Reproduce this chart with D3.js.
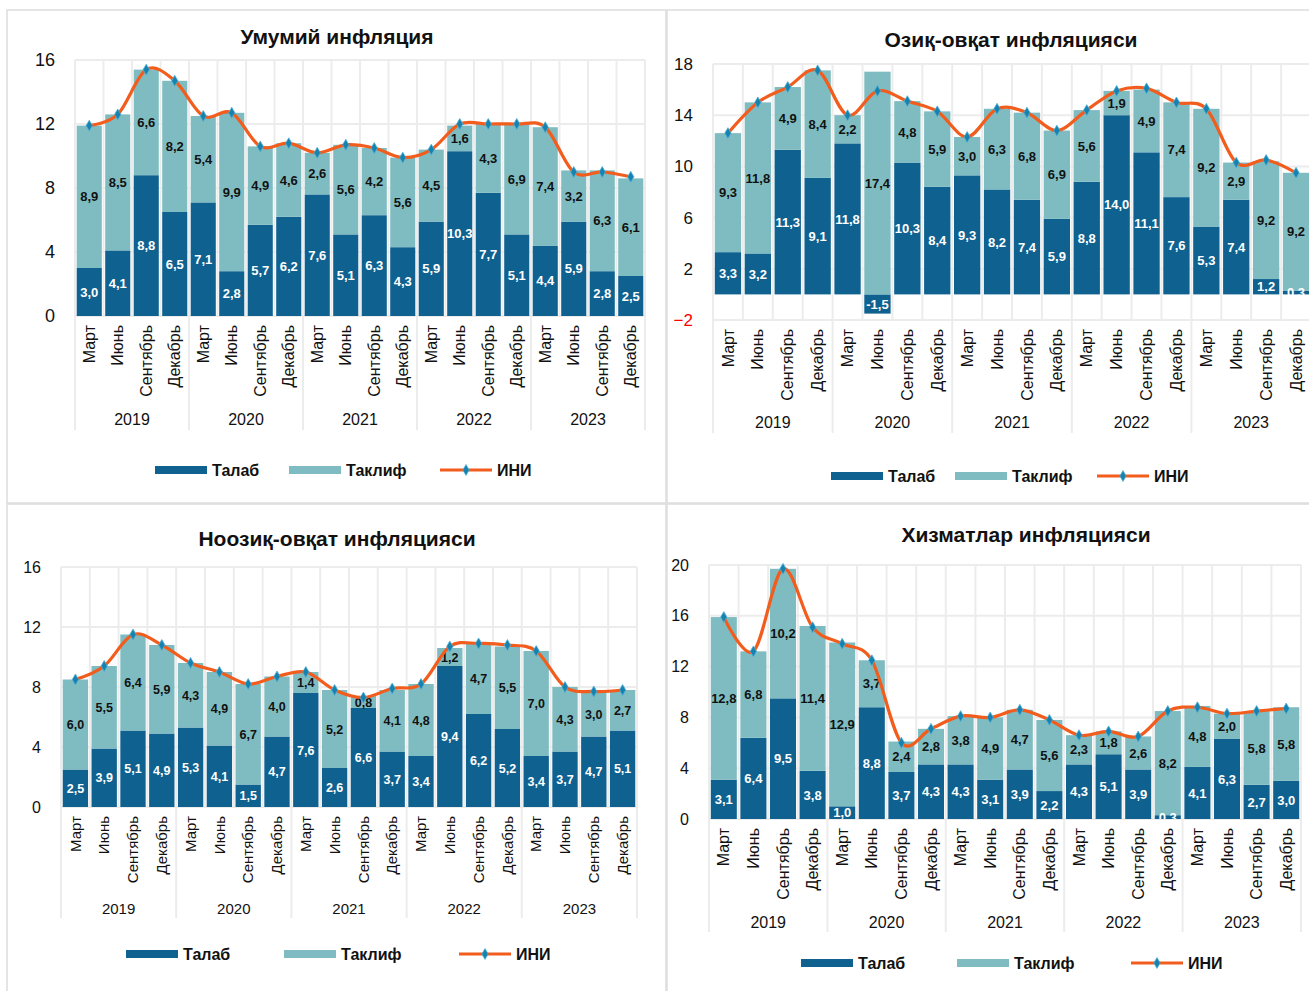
<!DOCTYPE html>
<html>
<head>
<meta charset="utf-8">
<script src="https://cdn.jsdelivr.net/npm/d3@7"></script>
<style>
  html, body { margin: 0; padding: 0; background: #ffffff; }
  svg { display: block; font-family: "Liberation Sans", Arial, sans-serif; }
</style>
</head>
<body>
<svg id="chart" width="1309" height="991"></svg>
<script>
// ---------------- DATA ----------------
const months = ["Март", "Июнь", "Сентябрь", "Декабрь"];
const years = ["2019", "2020", "2021", "2022", "2023"];
const seriesNames = ["Талаб", "Таклиф", "ИНИ"];

// Умумий инфляция
const talabUmumiy  = [3.0, 4.1, 8.8, 6.5, 7.1, 2.8, 5.7, 6.2, 7.6, 5.1, 6.3, 4.3, 5.9, 10.3, 7.7, 5.1, 4.4, 5.9, 2.8, 2.5];
const taklifUmumiy = [8.9, 8.5, 6.6, 8.2, 5.4, 9.9, 4.9, 4.6, 2.6, 5.6, 4.2, 5.6, 4.5, 1.6, 4.3, 6.9, 7.4, 3.2, 6.3, 6.1];
const iniUmumiy    = [11.9, 12.6, 15.4, 14.7, 12.5, 12.7, 10.6, 10.8, 10.2, 10.7, 10.5, 9.9, 10.4, 12.0, 12.0, 12.0, 11.8, 9.0, 9.0, 8.7];
const ticksUmumiy  = [0, 4, 8, 12, 16];

// Озиқ-овқат инфляцияси
const talabOziq  = [3.3, 3.2, 11.3, 9.1, 11.8, -1.5, 10.3, 8.4, 9.3, 8.2, 7.4, 5.9, 8.8, 14.0, 11.1, 7.6, 5.3, 7.4, 1.2, 0.3];
const taklifOziq = [9.3, 11.8, 4.9, 8.4, 2.2, 17.4, 4.8, 5.9, 3.0, 6.3, 6.8, 6.9, 5.6, 1.9, 4.9, 7.4, 9.2, 2.9, 9.2, 9.2];
const iniOziq    = [12.6, 15.0, 16.2, 17.5, 14.0, 15.9, 15.1, 14.3, 12.3, 14.5, 14.2, 12.8, 14.4, 15.9, 16.1, 15.0, 14.5, 10.3, 10.5, 9.5];
const ticksOziq  = [-2, 2, 6, 10, 14, 18];

// Ноозиқ-овқат инфляцияси
const talabNooziq  = [2.5, 3.9, 5.1, 4.9, 5.3, 4.1, 1.5, 4.7, 7.6, 2.6, 6.6, 3.7, 3.4, 9.4, 6.2, 5.2, 3.4, 3.7, 4.7, 5.1];
const taklifNooziq = [6.0, 5.5, 6.4, 5.9, 4.3, 4.9, 6.7, 4.0, 1.4, 5.2, 0.8, 4.1, 4.8, 1.2, 4.7, 5.5, 7.0, 4.3, 3.0, 2.7];
const iniNooziq    = [8.5, 9.4, 11.5, 10.8, 9.6, 9.0, 8.2, 8.7, 9.0, 7.8, 7.3, 7.9, 8.2, 10.7, 10.9, 10.8, 10.4, 8.0, 7.7, 7.8];
const ticksNooziq  = [0, 4, 8, 12, 16];

// Хизматлар инфляцияси
const talabXizmat  = [3.1, 6.4, 9.5, 3.8, 1.0, 8.8, 3.7, 4.3, 4.3, 3.1, 3.9, 2.2, 4.3, 5.1, 3.9, 0.3, 4.1, 6.3, 2.7, 3.0];
const taklifXizmat = [12.8, 6.8, 10.2, 11.4, 12.9, 3.7, 2.4, 2.8, 3.8, 4.9, 4.7, 5.6, 2.3, 1.8, 2.6, 8.2, 4.8, 2.0, 5.8, 5.8];
const iniXizmat    = [15.9, 13.2, 19.7, 15.1, 13.8, 12.5, 6.0, 7.1, 8.1, 8.0, 8.6, 7.8, 6.6, 6.9, 6.5, 8.5, 8.8, 8.3, 8.5, 8.7];
const ticksXizmat  = [0, 4, 8, 12, 16, 20];

// ---------------- STYLE / LAYOUT ----------------
const COL_TALAB = "#0f6290";
const COL_TAKLIF = "#7fbcc1";
const COL_LINE = "#f25c1c";
const COL_MARK = "#1582b0";
const COL_GRID = "#ececec";

const panels = [
  { title: "Умумий инфляция", talab: talabUmumiy, taklif: taklifUmumiy, ini: iniUmumiy, ticks: ticksUmumiy,
    box: [7, 10, 659, 493], titleX: 337, titleY: 44,
    px: [75, 645], py: [60, 316], axisBottom: 430, yearY: 425, tickFs: 18, monthFs: 16, labelFs: 13,
    legendY: 470, legendX: [155, 289, 440] },
  { title: "Озиқ-овқат инфляцияси", talab: talabOziq, taklif: taklifOziq, ini: iniOziq, ticks: ticksOziq,
    box: [667, 10, 660, 493], titleX: 1011, titleY: 47,
    px: [713, 1311], py: [64, 320], axisBottom: 433, yearY: 428, tickFs: 17, monthFs: 16, labelFs: 13,
    legendY: 476, legendX: [831, 955, 1097] },
  { title: "Ноозиқ-овқат инфляцияси", talab: talabNooziq, taklif: taklifNooziq, ini: iniNooziq, ticks: ticksNooziq,
    box: [7, 504, 659, 500], titleX: 337, titleY: 546,
    px: [61, 637], py: [567, 807], axisBottom: 918, yearY: 914, tickFs: 16, monthFs: 15, labelFs: 12.5,
    legendY: 954, legendX: [126, 284, 459] },
  { title: "Хизматлар инфляцияси", talab: talabXizmat, taklif: taklifXizmat, ini: iniXizmat, ticks: ticksXizmat,
    box: [667, 504, 660, 500], titleX: 1026, titleY: 542,
    px: [709, 1301], py: [565, 819], axisBottom: 932, yearY: 928, tickFs: 16, monthFs: 16, labelFs: 13,
    legendY: 963, legendX: [801, 957, 1131] }
];

const categories = years.flatMap(y => months.map(m => y + "|" + m));
const fmt = v => d3.format(".1f")(v).replace(".", ",").replace("−", "-");

const svg = d3.select("#chart");

panels.forEach((p, pi) => {
  const g = svg.append("g");

  // panel border
  g.append("rect")
    .attr("x", p.box[0]).attr("y", p.box[1]).attr("width", p.box[2]).attr("height", p.box[3])
    .attr("fill", "#fff").attr("stroke", "#dddddd").attr("stroke-width", 1.5);

  const x = d3.scaleBand().domain(categories).range(p.px).paddingInner(0.12).paddingOuter(0.06);
  const y = d3.scaleLinear().domain([p.ticks[0], p.ticks[p.ticks.length - 1]]).range([p.py[1], p.py[0]]);
  const step = x.step();
  const x0 = p.px[0];

  // title
  g.append("text").attr("x", p.titleX).attr("y", p.titleY)
    .attr("text-anchor", "middle").attr("font-size", 21).attr("font-weight", "bold").attr("fill", "#111")
    .text(p.title);

  // horizontal grid
  g.append("g").selectAll("line").data(p.ticks).join("line")
    .attr("x1", p.px[0]).attr("x2", p.px[1])
    .attr("y1", d => y(d)).attr("y2", d => y(d))
    .attr("stroke", COL_GRID).attr("stroke-width", 2);

  // vertical grid in plot area (category boundaries)
  const bounds = d3.range(categories.length + 1);
  g.append("g").selectAll("line").data(bounds).join("line")
    .attr("x1", i => x0 + i * step).attr("x2", i => x0 + i * step)
    .attr("y1", p.py[0]).attr("y2", p.py[1])
    .attr("stroke", COL_GRID).attr("stroke-width", 2);

  // year separators in axis area
  g.append("g").selectAll("line").data(d3.range(0, categories.length + 1, months.length)).join("line")
    .attr("x1", i => x0 + i * step).attr("x2", i => x0 + i * step)
    .attr("y1", p.py[1]).attr("y2", p.axisBottom)
    .attr("stroke", COL_GRID).attr("stroke-width", 2);

  // y axis tick labels
  const yAxis = d3.axisLeft(y).tickValues(p.ticks).tickSize(0).tickPadding(20).tickFormat(d3.format("d"));
  const ya = g.append("g").attr("transform", `translate(${p.px[0]},0)`).call(yAxis);
  ya.select(".domain").remove();
  ya.selectAll("text").attr("font-size", p.tickFs).attr("font-family", "Liberation Sans, Arial, sans-serif")
    .attr("fill", d => d < 0 ? "#ff0000" : "#111");

  // month labels
  const xAxis = d3.axisBottom(x).tickSize(0).tickFormat(d => d.split("|")[1]);
  const xa = g.append("g").attr("transform", `translate(0,${p.py[1]})`).call(xAxis);
  xa.select(".domain").remove();
  xa.selectAll("text")
    .attr("font-size", p.monthFs).attr("font-family", "Liberation Sans, Arial, sans-serif").attr("fill", "#111")
    .attr("text-anchor", "end")
    .attr("transform", "rotate(-90)")
    .attr("x", -9).attr("y", 0).attr("dy", "0.35em");

  // year labels
  g.append("g").selectAll("text").data(years).join("text")
    .attr("x", (d, i) => x0 + (i * months.length + months.length / 2) * step)
    .attr("y", p.yearY)
    .attr("text-anchor", "middle").attr("font-size", p.monthFs).attr("fill", "#111")
    .text(d => d);

  // stacked data
  const rows = categories.map((c, i) => ({ cat: c, talab: p.talab[i], taklif: p.taklif[i] }));
  const stack = d3.stack().keys(["talab", "taklif"]).offset(d3.stackOffsetDiverging)(rows);

  const clipId = "clip" + pi;
  svg.append("defs").append("clipPath").attr("id", clipId)
    .append("rect").attr("x", p.px[0]).attr("y", p.py[0])
    .attr("width", p.px[1] - p.px[0]).attr("height", p.py[1] - p.py[0]);

  const barsG = g.append("g").attr("clip-path", `url(#${clipId})`);
  const colors = [COL_TALAB, COL_TAKLIF];
  const textCols = ["#ffffff", "#111111"];

  stack.forEach((layer, li) => {
    barsG.append("g").selectAll("rect").data(layer).join("rect")
      .attr("x", d => x(d.data.cat))
      .attr("width", x.bandwidth())
      .attr("y", d => y(Math.max(d[0], d[1])))
      .attr("height", d => Math.abs(y(d[0]) - y(d[1])))
      .attr("fill", colors[li]);
  });
  stack.forEach((layer, li) => {
    barsG.append("g").selectAll("text").data(layer).join("text")
      .attr("x", d => x(d.data.cat) + x.bandwidth() / 2)
      .attr("y", d => y((d[0] + d[1]) / 2))
      .attr("dy", "0.36em")
      .attr("text-anchor", "middle")
      .attr("font-size", p.labelFs).attr("font-weight", "bold")
      .attr("fill", textCols[li])
      .text(d => fmt(d.data[layer.key]));
  });

  // INI line
  const pts = categories.map((c, i) => [x(c) + x.bandwidth() / 2, y(p.ini[i])]);
  g.append("path").datum(pts)
    .attr("d", d3.line().curve(d3.curveCatmullRom.alpha(0)))
    .attr("fill", "none").attr("stroke", COL_LINE).attr("stroke-width", 3.2).attr("stroke-linejoin", "round");
  g.append("g").selectAll("path").data(pts).join("path")
    .attr("transform", d => `translate(${d[0]},${d[1]})`)
    .attr("d", d3.symbol(d3.symbolDiamond, 34))
    .attr("fill", COL_MARK).attr("stroke", "#4fb0d6").attr("stroke-width", 0.8);

  // legend
  const lg = g.append("g");
  const ly = p.legendY;
  lg.append("rect").attr("x", p.legendX[0]).attr("y", ly - 4).attr("width", 52).attr("height", 8).attr("fill", COL_TALAB);
  lg.append("rect").attr("x", p.legendX[1]).attr("y", ly - 4).attr("width", 52).attr("height", 8).attr("fill", COL_TAKLIF);
  lg.append("line").attr("x1", p.legendX[2]).attr("x2", p.legendX[2] + 52).attr("y1", ly).attr("y2", ly)
    .attr("stroke", COL_LINE).attr("stroke-width", 3.2);
  lg.append("path").attr("transform", `translate(${p.legendX[2] + 26},${ly})`)
    .attr("d", d3.symbol(d3.symbolDiamond, 34)).attr("fill", COL_MARK).attr("stroke", "#4fb0d6").attr("stroke-width", 0.8);
  lg.selectAll("text").data(seriesNames).join("text")
    .attr("x", (d, i) => p.legendX[i] + 57)
    .attr("y", ly).attr("dy", "0.36em")
    .attr("font-size", 16).attr("font-weight", "bold").attr("fill", "#111")
    .text(d => d);
});
</script>
</body>
</html>
